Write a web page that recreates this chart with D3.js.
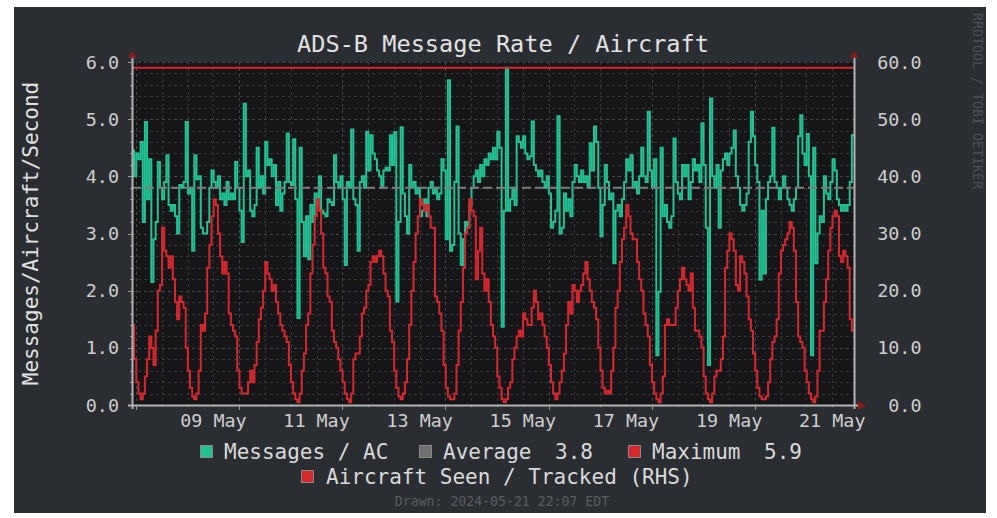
<!DOCTYPE html>
<html>
<head>
<meta charset="utf-8">
<script src="https://cdn.jsdelivr.net/npm/d3@7"></script>
<style>
body { margin: 0; background: #ffffff; }
text { font-family: "DejaVu Sans Mono", monospace; }
</style>
</head>
<body>
<div id="chart"></div>
<script>
// hourly samples, 2024-05-07 22:07 -> 2024-05-21 22:07
let msgRate = [
    4.45, 4.0, 4.4, 4.3, 4.6, 3.2, 4.95, 3.6, 4.3, 2.15, 2.9, 3.2, 4.25, 3.8, 3.6, 3.9, 4.37, 3.5, 3.4, 3.5, 3.3, 3.0, 3.85, 3.8,
    3.9, 4.95, 3.7, 3.8, 2.7, 4.37, 3.95, 4.0, 3.1, 3.0, 3.0, 3.2, 3.8, 4.1, 3.9, 3.8, 4.0, 3.6, 3.7, 3.5, 3.9, 3.6, 3.7, 3.6,
    4.25, 3.8, 3.4, 2.85, 5.27, 4.0, 4.1, 3.4, 3.3, 3.5, 4.5, 3.8, 4.0, 3.7, 4.6, 4.2, 4.3, 4.0, 4.2, 3.5, 3.9, 3.4, 3.7, 3.9,
    4.75, 3.9, 3.85, 4.65, 3.6, 1.52, 4.5, 3.2, 2.6, 3.3, 2.55, 3.5, 3.2, 3.7, 3.5, 4.0, 3.4, 3.35, 3.3, 3.6, 3.55, 3.5, 4.37, 3.9,
    3.8, 4.0, 3.6, 2.45, 3.9, 3.8, 4.82, 3.6, 3.5, 2.7, 3.9, 4.0, 3.8, 4.78, 4.1, 4.72, 4.4, 4.3, 4.1, 4.0, 3.8, 4.1, 4.15, 4.1,
    4.72, 4.2, 4.77, 1.81, 3.2, 4.86, 3.7, 3.3, 3.0, 4.2, 3.8, 3.9, 3.7, 3.8, 3.3, 3.4, 3.6, 3.3, 3.8, 3.9, 3.7, 3.8, 3.6, 3.7,
    4.3, 4.1, 2.9, 5.68, 2.7, 2.8, 3.9, 4.87, 3.0, 2.45, 2.9, 3.2, 3.1, 3.5, 3.8, 4.0, 4.1, 3.9, 4.2, 4.0, 4.3, 4.2, 4.4, 4.3,
    4.5, 4.3, 4.78, 4.5, 1.37, 3.4, 5.9, 3.4, 3.6, 3.8, 3.5, 4.7, 4.6, 4.5, 4.7, 4.4, 4.3, 4.35, 4.96, 4.2, 4.1, 4.0, 4.1, 3.9,
    3.8, 4.0, 3.7, 3.1, 3.2, 3.4, 5.05, 3.0, 3.1, 3.7, 3.4, 3.6, 3.3, 3.9, 4.2, 4.0, 3.9, 4.1, 3.9, 4.0, 3.8, 4.58, 4.1, 4.87,
    4.6, 3.8, 2.95, 3.5, 4.2, 3.9, 3.6, 3.7, 2.48, 3.4, 3.5, 3.3, 3.6, 3.9, 4.3, 4.1, 4.37, 3.8, 3.9, 3.7, 4.0, 4.5, 4.0, 3.9,
    5.13, 4.1, 3.8, 4.3, 0.87, 1.98, 4.5, 3.3, 3.5, 3.2, 3.1, 3.3, 4.66, 3.9, 3.7, 3.6, 4.2, 4.0, 4.2, 3.6, 3.9, 4.3, 4.1, 4.2,
    3.9, 4.93, 4.2, 3.1, 0.7, 5.36, 4.0, 3.8, 4.2, 3.1, 4.1, 4.3, 4.4, 4.2, 4.4, 4.5, 4.8, 4.0, 3.8, 3.5, 3.4, 3.5, 3.7, 4.6,
    5.13, 4.7, 4.2, 3.9, 2.19, 3.4, 2.3, 3.6, 3.9, 4.0, 4.85, 3.9, 3.8, 3.6, 3.8, 4.0, 3.8, 3.6, 3.5, 3.4, 3.6, 3.8, 4.7, 5.07,
    4.4, 4.2, 4.74, 4.0, 0.87, 4.5, 2.48, 3.0, 3.3, 3.2, 4.0, 3.7, 3.6, 3.9, 4.3, 4.1, 3.6, 3.5, 3.4, 3.5, 3.4, 3.5, 3.9, 4.72
];
let aircraft = [
    14, 8, 4, 2, 1, 2, 5, 8, 12, 10, 7, 13, 20, 21, 31, 27, 26, 24, 26, 22, 18, 15, 19, 18,
    17, 10, 6, 3, 1.5, 1, 2, 6, 14, 13, 16, 24, 28, 33, 36, 35, 30, 26, 23, 25, 23, 16, 14, 13,
    12, 6, 3, 2, 2, 2, 4, 6, 4, 7, 11, 15, 17, 20, 25, 23, 22, 20, 21, 18, 16, 14, 13, 12,
    11, 7, 4, 2, 1, 0.5, 2, 6, 9, 14, 16, 23, 28, 33, 36, 34, 30, 24, 23, 19, 18, 13, 11, 10,
    8, 6, 4, 2, 1, 0.5, 2, 8, 9, 9, 12, 16, 17, 20, 21, 25, 26, 25, 26, 27, 26, 23, 20, 19,
    13, 11, 6, 3, 1.5, 1, 2, 4, 8, 14, 20, 25, 30, 33, 36, 35, 34, 35, 33, 31, 31, 19, 18, 16,
    13, 7, 3, 1.5, 1, 1, 2, 7, 13, 18, 24, 30, 31, 36, 34, 33, 22, 27, 31, 23, 20, 22, 18, 14,
    12, 10, 5, 3, 1, 0.5, 1, 3, 4, 8, 10, 12, 13, 12, 16, 15, 14, 14, 17, 20, 18, 15, 16, 14,
    12, 10, 7, 4, 2, 1, 2, 4, 6, 9, 14, 18, 16, 21, 20, 18, 20, 21, 23, 25, 22, 20, 18, 17,
    15, 10, 6, 3, 2, 2.5, 2, 6, 10, 17, 20, 25, 29, 31, 35, 33, 30, 29, 29, 25, 22, 20, 16, 14,
    12, 7, 4, 2, 1, 0.5, 2, 5, 14, 15, 14, 14, 14, 17, 20, 22, 24, 22, 21, 20, 23, 17, 13, 13,
    12, 10, 5, 2, 1, 0.5, 2, 5, 6, 6, 8, 12, 24, 27, 30, 29, 27, 21, 20, 26, 25, 23, 19, 15,
    13, 9, 6, 3, 1.5, 1, 1, 1.5, 4, 8, 11, 12, 15, 23, 27, 28, 29, 30, 32, 31, 27, 18, 12, 11,
    10, 6, 4, 2, 1, 0.5, 1.5, 6, 13, 13, 18, 22, 27, 31, 33, 34, 33, 26, 25, 27, 26, 24, 15, 13
];
let leftTicks = [0, 1, 2, 3, 4, 5, 6];
let rightTicks = [0, 10, 20, 30, 40, 50, 60];
let dayLabels = ["09 May", "11 May", "13 May", "15 May", "17 May", "19 May", "21 May"];
let statNames = ["Average", "Maximum"];
let statValues = [3.8, 5.9];
let seriesNames = ["Messages / AC", "Aircraft Seen / Tracked (RHS)"];
let titleText = "ADS-B Message Rate / Aircraft";
let unitText = "Messages/Aircraft/Second";
let drawnText = "Drawn: 2024-05-21 22:07 EDT";
let markText = "RRDTOOL / TOBI OETIKER";

let parseTime = d3.timeParse("%Y-%m-%d %H:%M");
let start = parseTime("2024-05-07 22:07");
let end = parseTime("2024-05-21 22:07");

let green = "#22c295", red = "#d7292d", grey = "#6f6f6f";
let plot = {left: 132, right: 854, top: 62, bottom: 405};

let svg = d3.select("#chart")
    .append("svg")
    .attr("width", 997)
    .attr("height", 518);

svg.append("rect")
    .attr("x", 14).attr("y", 7)
    .attr("width", 972).attr("height", 506)
    .attr("fill", "#2a2d32");

svg.append("rect")
    .attr("x", plot.left).attr("y", plot.top)
    .attr("width", plot.right - plot.left).attr("height", plot.bottom - plot.top)
    .attr("fill", "#161619");

let x = d3.scaleTime().domain([start, end]).range([plot.left, plot.right]);
let yLeft = d3.scaleLinear().domain([0, 6]).range([plot.bottom, plot.top]);
let yRight = d3.scaleLinear().domain([0, 60]).range([plot.bottom, plot.top]);

//horizontal grid, minor every 0.2
d3.range(1, 31).forEach(k => {
    let major = k % 5 == 0;
    svg.append("line")
        .attr("x1", plot.left).attr("x2", plot.right)
        .attr("y1", Math.round(yLeft(k / 5)) + 0.5).attr("y2", Math.round(yLeft(k / 5)) + 0.5)
        .attr("stroke", major ? "#48484c" : "#38383c")
        .attr("stroke-dasharray", "3,3");
    svg.append("line")
        .attr("x1", plot.left - (major ? 4 : 2)).attr("x2", plot.left)
        .attr("y1", Math.round(yLeft(k / 5)) + 0.5).attr("y2", Math.round(yLeft(k / 5)) + 0.5)
        .attr("stroke", "#9a9a9a");
});

//vertical grid every 12 hours
d3.timeHour.every(12).range(start, end).forEach(t => {
    let major = t.getHours() == 0 && t.getDate() % 2 == 0;
    let px = Math.round(x(t)) + 0.5;
    svg.append("line")
        .attr("x1", px).attr("x2", px)
        .attr("y1", plot.top).attr("y2", plot.bottom)
        .attr("stroke", major ? "#48484c" : "#38383c")
        .attr("stroke-dasharray", "3,3");
    svg.append("line")
        .attr("x1", px).attr("x2", px)
        .attr("y1", plot.bottom).attr("y2", plot.bottom + (major ? 5 : 2))
        .attr("stroke", "#9a9a9a");
});

svg.append("clipPath").attr("id", "clip")
    .append("rect")
    .attr("x", plot.left).attr("y", plot.top - 2)
    .attr("width", plot.right - plot.left).attr("height", plot.bottom - plot.top + 2);

function stepPoints(values){
    let pts = values.map((v, i) => ({t: d3.timeHour.offset(start, i), v: v}));
    pts.push({t: end, v: values[values.length - 1]});
    return pts;
}

let lineLeft = d3.line().x(d => x(d.t)).y(d => yLeft(d.v)).curve(d3.curveStepAfter);
let lineRight = d3.line().x(d => x(d.t)).y(d => yRight(d.v)).curve(d3.curveStepAfter);

let g = svg.append("g").attr("clip-path", "url(#clip)");

g.append("path")
    .datum(stepPoints(msgRate))
    .attr("d", lineLeft)
    .attr("fill", "none")
    .attr("stroke", green)
    .attr("stroke-width", 2);

g.append("path")
    .datum(stepPoints(aircraft))
    .attr("d", lineRight)
    .attr("fill", "none")
    .attr("stroke", red)
    .attr("stroke-width", 2);

//average and maximum rules
g.append("line")
    .attr("x1", plot.left).attr("x2", plot.right)
    .attr("y1", yLeft(statValues[0])).attr("y2", yLeft(statValues[0]))
    .attr("stroke", "#7c7c7c").attr("stroke-width", 2)
    .attr("stroke-dasharray", "9,4");

g.append("line")
    .attr("x1", plot.left).attr("x2", plot.right)
    .attr("y1", yLeft(statValues[1])).attr("y2", yLeft(statValues[1]))
    .attr("stroke", red).attr("stroke-width", 2);

//axes
svg.append("line")
    .attr("x1", plot.left - 4).attr("x2", plot.right + 5)
    .attr("y1", plot.bottom + 0.5).attr("y2", plot.bottom + 0.5)
    .attr("stroke", "#b4b4b4").attr("stroke-width", 2);
[plot.left, plot.right].forEach(ax => {
    svg.append("line")
        .attr("x1", ax + 0.5).attr("x2", ax + 0.5)
        .attr("y1", plot.bottom + 4).attr("y2", plot.top - 4)
        .attr("stroke", "#b4b4b4").attr("stroke-width", 2);
    svg.append("path")
        .attr("d", `M${ax - 4},${plot.top - 4} L${ax + 4.5},${plot.top - 4} L${ax + 0.5},${plot.top - 11} Z`)
        .attr("fill", "#8e1c1c");
});
svg.append("path")
    .attr("d", `M${plot.right + 4},${plot.bottom - 4} L${plot.right + 4},${plot.bottom + 5} L${plot.right + 12},${plot.bottom + 0.5} Z`)
    .attr("fill", "#8e1c1c");

//tick labels
leftTicks.forEach(t => {
    svg.append("text")
        .attr("x", 119).attr("y", yLeft(t) + 6.5)
        .attr("text-anchor", "end")
        .attr("font-size", 18.4)
        .attr("fill", "#cfcfcf")
        .text(t.toFixed(1));
});
rightTicks.forEach(t => {
    svg.append("text")
        .attr("x", 921.5).attr("y", yRight(t) + 6.5)
        .attr("text-anchor", "end")
        .attr("font-size", 18.4)
        .attr("fill", "#cfcfcf")
        .text(t.toFixed(1));
});
dayLabels.forEach(s => {
    let t = d3.timeParse("%d %b %Y %H:%M")(s + " 2024 12:00");
    svg.append("text")
        .attr("x", x(t)).attr("y", 427)
        .attr("text-anchor", "middle")
        .attr("font-size", 18.4)
        .attr("fill", "#cfcfcf")
        .text(s);
});

//titles
svg.append("text")
    .attr("x", 503).attr("y", 52)
    .attr("text-anchor", "middle")
    .attr("font-size", 23.6)
    .attr("fill", "#e2e2e2")
    .text(titleText);

svg.append("text")
    .attr("transform", "translate(38," + (plot.top + plot.bottom) / 2 + ") rotate(-90)")
    .attr("text-anchor", "middle")
    .attr("font-size", 21)
    .attr("fill", "#e2e2e2")
    .text(unitText);

svg.append("text")
    .attr("transform", "translate(973,13) rotate(90)")
    .attr("font-size", 13.3)
    .attr("fill", "#4d5055")
    .text(markText);

//legend
let legendRows = [
    [{color: green, sx: 200, label: seriesNames[0], lx: 224},
     {color: grey, sx: 419, label: statNames[0], lx: 443, value: statValues[0], vx: 555},
     {color: red, sx: 628, label: statNames[1], lx: 652, value: statValues[1], vx: 764}],
    [{color: red, sx: 301, label: seriesNames[1], lx: 326}]
];
legendRows.forEach((row, r) => {
    let base = 459 + r * 25;
    row.forEach(item => {
        svg.append("rect")
            .attr("x", item.sx + 0.5).attr("y", base - 13.5)
            .attr("width", 12).attr("height", 12)
            .attr("fill", item.color)
            .attr("stroke", "#8a8a8a").attr("stroke-width", 1);
        svg.append("text")
            .attr("x", item.lx).attr("y", base)
            .attr("font-size", 21)
            .attr("fill", "#dadada")
            .text(item.label);
        if (item.value !== undefined) {
            svg.append("text")
                .attr("x", item.vx).attr("y", base)
                .attr("font-size", 21)
                .attr("fill", "#dadada")
                .text(item.value.toFixed(1));
        }
    });
});

svg.append("text")
    .attr("x", 502).attr("y", 506)
    .attr("text-anchor", "middle")
    .attr("font-size", 13.2)
    .attr("fill", "#5a5d62")
    .text(drawnText);
</script>
</body>
</html>
